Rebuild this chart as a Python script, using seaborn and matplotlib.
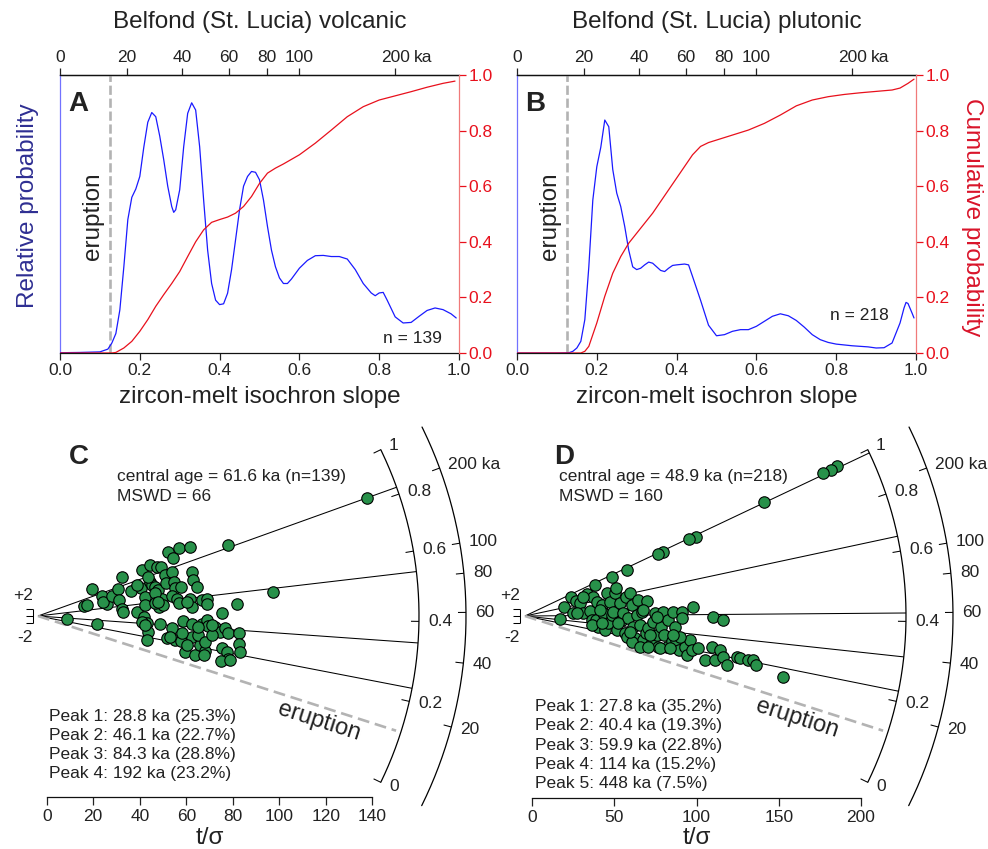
import numpy as np
import seaborn as sns
import matplotlib.pyplot as plt

sns.set_style('white')
plt.rcParams['font.family'] = ['Liberation Sans', 'DejaVu Sans']
plt.rcParams['axes.linewidth'] = 0.9

W, H = 988, 849
INK = '#222222'
RED = '#e8101c'
BLUE = '#1a1aff'
GREEN = '#28914a'
LAM = 9.1577e-3          # 230Th decay constant, 1/ka
ERUPTION = 0.125         # isochron slope of the eruption age

#%% Data - probability density / cumulative curves (A, B)
slope_pdf_a = [0, 0.05, 0.1, 0.12, 0.13, 0.14, 0.15, 0.16, 0.17, 0.18, 0.19, 0.2, 0.21, 0.22, 0.23,
               0.24, 0.25, 0.26, 0.27, 0.28, 0.285, 0.29, 0.3, 0.31, 0.32, 0.33, 0.34, 0.35, 0.36,
               0.37, 0.38, 0.39, 0.4, 0.41, 0.42, 0.43, 0.44, 0.45, 0.46, 0.47, 0.48, 0.49, 0.5,
               0.51, 0.52, 0.53, 0.54, 0.55, 0.56, 0.57, 0.58, 0.6, 0.62, 0.64, 0.66, 0.68, 0.7,
               0.72, 0.74, 0.76, 0.78, 0.79, 0.8, 0.81, 0.82, 0.84, 0.86, 0.88, 0.9, 0.92, 0.94,
               0.96, 0.98, 0.993]
pdf_a = [0.001, 0.002, 0.004, 0.014, 0.036, 0.07, 0.155, 0.31, 0.48, 0.56, 0.59, 0.635, 0.74, 0.83,
         0.865, 0.85, 0.78, 0.695, 0.6, 0.527, 0.506, 0.515, 0.587, 0.742, 0.862, 0.9, 0.874,
         0.742, 0.55, 0.37, 0.25, 0.19, 0.174, 0.177, 0.215, 0.3, 0.407, 0.515, 0.6, 0.635,
         0.653, 0.65, 0.623, 0.55, 0.455, 0.37, 0.31, 0.27, 0.25, 0.25, 0.266, 0.305, 0.333,
         0.35, 0.351, 0.347, 0.347, 0.338, 0.3, 0.25, 0.216, 0.206, 0.216, 0.218, 0.19, 0.13,
         0.108, 0.11, 0.132, 0.153, 0.162, 0.156, 0.141, 0.126]
slope_cdf_a = [0, 0.13, 0.14, 0.15, 0.16, 0.18, 0.2, 0.22, 0.24, 0.26, 0.28, 0.3, 0.32, 0.34, 0.36,
               0.38, 0.4, 0.42, 0.44, 0.46, 0.48, 0.5, 0.52, 0.54, 0.56, 0.6, 0.64, 0.68, 0.72,
               0.76, 0.8, 0.84, 0.88, 0.92, 0.96, 0.99]
cdf_a = [0, 0, 0.002, 0.01, 0.018, 0.042, 0.078, 0.12, 0.168, 0.21, 0.25, 0.293, 0.347, 0.4, 0.443,
         0.47, 0.48, 0.489, 0.503, 0.527, 0.563, 0.61, 0.647, 0.665, 0.68, 0.713, 0.755, 0.802,
         0.85, 0.886, 0.91, 0.925, 0.94, 0.956, 0.97, 0.978]

slope_pdf_b = [0, 0.1, 0.13, 0.14, 0.15, 0.16, 0.17, 0.18, 0.19, 0.2, 0.21, 0.22, 0.23, 0.24, 0.25,
               0.26, 0.27, 0.28, 0.29, 0.3, 0.31, 0.32, 0.33, 0.34, 0.35, 0.36, 0.37, 0.38, 0.39,
               0.4, 0.42, 0.43, 0.44, 0.46, 0.48, 0.5, 0.52, 0.54, 0.56, 0.58, 0.6, 0.62, 0.64,
               0.66, 0.68, 0.7, 0.72, 0.74, 0.76, 0.78, 0.8, 0.84, 0.88, 0.9, 0.92, 0.94, 0.96,
               0.97, 0.975, 0.98, 0.99, 0.995]
pdf_b = [0, 0, 0.001, 0.006, 0.018, 0.042, 0.12, 0.31, 0.55, 0.67, 0.74, 0.838, 0.814, 0.66, 0.575,
         0.527, 0.455, 0.37, 0.31, 0.3, 0.305, 0.317, 0.327, 0.323, 0.31, 0.297, 0.293, 0.305,
         0.315, 0.317, 0.32, 0.317, 0.275, 0.19, 0.1, 0.062, 0.066, 0.078, 0.084, 0.084, 0.096,
         0.114, 0.132, 0.141, 0.134, 0.117, 0.093, 0.066, 0.048, 0.038, 0.032, 0.026, 0.022,
         0.018, 0.019, 0.036, 0.108, 0.162, 0.182, 0.178, 0.144, 0.126]
slope_cdf_b = [0, 0.16, 0.17, 0.18, 0.2, 0.22, 0.24, 0.26, 0.28, 0.3, 0.32, 0.34, 0.36, 0.38, 0.4,
               0.42, 0.44, 0.46, 0.48, 0.5, 0.54, 0.58, 0.62, 0.66, 0.7, 0.74, 0.78, 0.82, 0.86,
               0.9, 0.94, 0.96, 0.98, 0.995]
cdf_b = [0, 0, 0.006, 0.024, 0.108, 0.204, 0.287, 0.347, 0.395, 0.431, 0.467, 0.503, 0.545, 0.587,
         0.629, 0.671, 0.713, 0.743, 0.757, 0.766, 0.784, 0.802, 0.826, 0.856, 0.889, 0.91,
         0.922, 0.93, 0.936, 0.941, 0.946, 0.953, 0.97, 0.985]

top_ages = [0, 20, 40, 60, 80, 100, 200]

#%% Data - radial plots (C, D)
peaks_c = [28.8, 46.1, 84.3, 192]
frac_c = [25.3, 22.7, 28.8, 23.2]
peaks_d = [27.8, 40.4, 59.9, 114, 448]
frac_d = [35.2, 19.3, 22.8, 15.2, 7.5]

# t/sigma and standardised estimate
tsig_c = [8.6, 21.5, 16.2, 17.2, 19.3, 23.6, 25.8, 24.3, 27.9, 30.8, 31.1, 32.2, 33.0, 32.5, 36.2,
          38.7, 40.5, 41.1, 42.0, 42.3, 44.4, 44.4, 45.1, 46.6, 47.3, 48.0, 49.1, 49.7, 50.8,
          51.3, 48.3, 50.1, 52.3, 53.7, 54.4, 54.9, 55.1, 53.7, 55.9, 56.9, 57.7, 56.9, 61.6,
          62.3, 63.0, 64.5, 61.6, 62.3, 60.2, 66.6, 68.8, 68.9, 78.1, 81.7, 75.2, 58.7, 62.6,
          66.6, 68.8, 69.5, 72.3, 74.5, 76.6, 78.1, 82.6, 82.6, 83.1, 53.7, 51.6, 55.1, 57.7,
          59.4, 62.3, 63.7, 65.9, 65.2, 68.0, 68.0, 70.9, 75.2, 77.4, 77.8, 74.9, 78.8, 48.7,
          43.0, 43.7, 43.0, 40.8, 42.3, 65.2, 58.0, 60.2, 53.0, 70.9, 38.7, 43.7, 46.6, 42.3,
          46.6, 48.0, 137.5, 97.1, 67.6]
z_c = [-0.9, -2.2, 2.9, 3.2, 7.8, 5.9, 3.4, 4.2, 5.8, 7.8, 4.8, 2.0, 1.2, 11.5, 7.3,
       1.2, 8.1, 13.4, -0.2, 5.6, 15.0, 10.0, 9.0, 8.5, 14.4, 7.6, 14.4, 5.1, 11.9,
       9.5, 2.7, 3.2, 18.7, 12.9, 16.8, 10.0, 8.1, 5.8, 5.1, 3.7, 8.5, 19.9, 20.0,
       12.7, 10.5, 8.5, 5.1, 2.7, 4.2, 4.6, 5.1, 3.4, 20.7, 3.4, 1.0, -1.5, -2.2,
       -2.2, -1.2, -2.8, -3.1, -4.6, -3.4, -5.1, -5.1, -8.3, -10.6, -3.4, -6.5, -7.0, -7.3,
       -10.4, -6.0, -11.4, -8.5, -5.4, -10.2, -7.5, -5.6, -9.4, -10.4, -12.4, -13.1, -12.8, -2.2,
       -1.9, -4.6, -7.0, -1.7, -2.6, -3.1, -5.1, -8.5, -6.0, -2.6, 9.0, 11.5, 6.6, 3.2,
       3.7, 4.2, 34.5, 6.9, -11.4]

tsig_d = [16.9, 19.3, 23.4, 25.0, 26.6, 29.0, 31.1, 33.1, 35.1, 36.1, 37.1, 38.2, 39.2, 38.8, 40.2,
          42.2, 43.2, 44.2, 45.3, 46.3, 47.3, 48.3, 49.3, 50.3, 50.9, 51.3, 53.4, 54.4, 55.4,
          56.4, 57.0, 57.4, 58.4, 59.5, 60.5, 61.5, 62.5, 63.5, 64.5, 65.5, 66.6, 67.6, 69.2,
          69.6, 70.6, 72.6, 73.7, 74.7, 75.7, 76.7, 78.1, 79.7, 80.1, 81.8, 82.8, 84.8, 85.8,
          86.8, 87.4, 89.5, 90.9, 90.9, 92.9, 94.0, 96.0, 97.0, 98.0, 101.0, 105.1, 109.2, 110.2,
          111.2, 114.2, 116.3, 116.3, 118.3, 124.4, 126.4, 131.5, 134.5, 136.1, 48.3, 57.4, 36.1,
          42.2, 60.5, 65.5, 70.6, 77.7, 83.8, 89.9, 75.7, 67.6, 31.1, 27.0, 41.2, 52.4, 59.5,
          71.6, 85.8, 185.3, 181.6, 177.1, 141.0, 99.4, 95.4, 79.7, 76.7, 152.4]
z_d = [-1.0, 2.5, 5.6, 1.0, 4.5, 3.7, 0.8, 6.4, 1.6, -1.2, 5.6, 9.0, 4.2, -1.2, -3.1,
       3.2, 0.8, -4.1, 6.6, -2.1, 4.2, 0.3, 1.3, 6.6, 8.1, -4.1, 3.7, -1.2, 0.8,
       -5.1, 5.6, -6.0, -0.7, 6.6, 3.2, -3.1, -6.5, 0.3, 4.7, -2.6, 1.3, -7.0, -5.1,
       4.5, -3.6, -7.5, -1.7, 0.8, -5.5, -9.1, -3.1, 1.3, -5.5, -9.0, -1.2, -7.2, 1.3,
       -3.3, -7.0, -9.9, 1.3, -0.7, -9.0, -11.4, -7.0, -9.9, 2.7, -9.4, -12.8, -9.0, -0.2,
       -12.8, -9.9, -1.2, -11.9, -14.3, -11.9, -12.3, -12.8, -12.8, -14.3, 11.5, 13.4, -2.6,
       -2.1, -7.5, -9.0, -9.0, -9.4, -9.4, -6.0, -0.2, 1.7, 5.6, 0.8, 1.7, -2.1, -4.6,
       -5.5, -5.5, 43.8, 42.6, 41.6, 33.3, 23.1, 22.4, 18.7, 18.1, -17.7]

arc_slopes = [0, 0.2, 0.4, 0.6, 0.8, 1]
arc_ages = [20, 40, 60, 80, 100, 200]


def to_slope(age):
    return 1 - np.exp(-LAM * np.asarray(age, dtype=float))


def arc_angle(s):
    # angle on the radial scale, log(1+slope) transform centred on the 0-1 range
    return np.arctan(1.4 * (np.log1p(s) - np.log(2) / 2))


def fxy(px, py):
    return px / W, 1 - py / H


fig = plt.figure(figsize=(W / 100, H / 100), dpi=100)


def px_axes(l, t, r, b):
    ax = fig.add_axes([l / W, 1 - b / H, (r - l) / W, (b - t) / H])
    ax.patch.set_alpha(0)
    return ax


#%% Panels A and B
def kde_panel(left, xp, yp, xc, yc, title, letter, n_text, n_xy):
    right = left + 399
    ax = px_axes(left, 75, right, 353)
    ax2 = ax.twinx()
    ax2.patch.set_alpha(0)
    ax.axvline(ERUPTION, color='#b3b3b3', lw=1.9, dashes=(3.5, 1.4), zorder=1)
    sns.lineplot(x=xp, y=yp, ax=ax, color=BLUE, lw=0.9, zorder=3)
    sns.lineplot(x=xc, y=yc, ax=ax2, color=RED, lw=0.9)
    for a in (ax, ax2):
        a.set_xlim(0, 1)
        a.set_ylim(0, 1)
        a.set_ylabel('')
        a.set_xlabel('')
    ax.spines['left'].set_color('#7272ff')
    ax.spines['right'].set_visible(False)
    for s in ('top', 'bottom'):
        ax.spines[s].set_color('#111111')
    for s in ('left', 'top', 'bottom'):
        ax2.spines[s].set_visible(False)
    ax2.spines['right'].set_color('#f07a7a')
    ax.tick_params(axis='y', left=False, labelleft=False)
    ax.set_xticks([0, 0.2, 0.4, 0.6, 0.8, 1.0], labels=['0.0', '0.2', '0.4', '0.6', '0.8', '1.0'])
    ax.tick_params(axis='x', bottom=True, direction='out', length=5, width=0.9,
                   labelsize=12.5, colors=INK, pad=2)
    ax2.set_yticks([0, 0.2, 0.4, 0.6, 0.8, 1.0], labels=['0.0', '0.2', '0.4', '0.6', '0.8', '1.0'])
    ax2.tick_params(axis='y', right=True, direction='out', length=5, width=0.9,
                    labelsize=12.5, colors=RED, pad=2)

    sec = ax.secondary_xaxis('top')
    sec.set_xticks(list(to_slope(top_ages)), labels=[str(a) for a in top_ages])
    sec.tick_params(direction='out', length=5, width=0.9, labelsize=12.5, colors=INK, pad=2)
    sec.spines['top'].set_color('#111111')
    x200 = left + 399 * float(to_slope(200))
    fig.text(*fxy(x200 + 19, 57), 'ka', fontsize=12.5, color=INK, ha='left', va='center')

    cx = left + 199.5
    fig.text(*fxy(cx, 22), title, fontsize=17.5, color=INK, ha='center', va='center')
    fig.text(*fxy(cx, 397), 'zircon-melt isochron slope', fontsize=17.5, color=INK,
             ha='center', va='center')
    fig.text(*fxy(left + 8, 104), letter, fontsize=20, fontweight='bold', color=INK,
             ha='left', va='center')
    fig.text(*fxy(left + 33, 216), 'eruption', fontsize=17.5, color=INK, rotation=90,
             ha='center', va='center')
    fig.text(*fxy(*n_xy), n_text, fontsize=12.5, color=INK, ha='right', va='center')
    return ax


kde_panel(60, slope_pdf_a, pdf_a, slope_cdf_a, cdf_a, 'Belfond (St. Lucia) volcanic', 'A',
          'n = 139', (442, 339))
kde_panel(517, slope_pdf_b, pdf_b, slope_cdf_b, cdf_b, 'Belfond (St. Lucia) plutonic', 'B',
          'n = 218', (889, 316))
fig.text(*fxy(28, 206), 'Relative probability', fontsize=17.5, color='#2e2e92', rotation=90,
         ha='center', va='center')
fig.text(*fxy(972, 217), 'Cumulative probability', fontsize=17.5, color='#d9142a', rotation=-90,
         ha='center', va='center')

#%% Panels C and D (radial plots)
R1, R2, TL = 381, 428, 8


def radial_panel(geo, lpx, rpx, tsig, zs, peaks, fracs, xmax, xstep, letter, lines, peak_y):
    ox, oy, x0, sx, sy, ay = geo
    ax = px_axes(lpx, 425, rpx, ay)

    def pol(r, th):
        return (ox + r * np.cos(th) - x0) / sx, r * np.sin(th) / sy

    kw = dict(color='black', lw=0.75, clip_on=False, solid_capstyle='butt')
    # radial lines through the peaks
    for age in peaks:
        th = arc_angle(to_slope(age))
        ax.plot(*pol(np.array([0, R1]), th), **kw)
    th_e = arc_angle(ERUPTION)
    ax.plot(*pol(np.array([0, R1 - 5]), th_e), color='#b3b3b3', lw=1.9,
            dashes=(4.5, 2.2), clip_on=False)

    # inner arc: isochron slope
    th = np.linspace(arc_angle(0), arc_angle(1), 150)
    ax.plot(*pol(R1, th), color='black', lw=0.9, clip_on=False)
    for s in arc_slopes:
        t = arc_angle(s)
        ax.plot(*pol(np.array([R1 - TL, R1]), t), **kw)
        ax.text(*pol(R1 + 9, t), f'{s:g}', fontsize=12.5, color=INK, ha='left', va='center')
    # outer arc: age
    th = np.linspace(np.radians(-26.3), np.radians(26.2), 150)
    ax.plot(*pol(R2, th), color='black', lw=0.9, clip_on=False)
    for a in arc_ages:
        t = arc_angle(to_slope(a))
        ax.plot(*pol(np.array([R2 - TL, R2]), t), **kw)
        ax.text(*pol(R2 + 9, t), f'{a} ka' if a == 200 else str(a), fontsize=12.5,
                color=INK, ha='left', va='center')

    # 2-sigma bar
    xb = (ox - 5 - x0) / sx
    ax.plot([xb, xb], [-2, 2], **kw)
    for yb in (-2, 0, 2):
        ax.plot([xb - 7 / sx, xb], [yb, yb], **kw)
    fig.text(*fxy(ox - 5, oy - 21), '+2', fontsize=12.5, color=INK, ha='right', va='center')
    fig.text(*fxy(ox - 5, oy + 21), '-2', fontsize=12.5, color=INK, ha='right', va='center')

    sns.scatterplot(x=tsig, y=zs, ax=ax, color=GREEN, edgecolor='black', linewidth=0.8,
                    s=68, zorder=5, clip_on=False, legend=False)

    ax.set_xlim((lpx - x0) / sx, (rpx - x0) / sx)
    ax.set_ylim((oy - ay) / sy, (oy - 425) / sy)
    for s in ('left', 'right', 'top'):
        ax.spines[s].set_visible(False)
    ax.spines['bottom'].set_bounds(0, xmax)
    ax.spines['bottom'].set_color('#111111')
    ax.set_xticks(list(range(0, xmax + 1, xstep)))
    ax.set_yticks([])
    ax.tick_params(axis='x', bottom=True, direction='out', length=6, width=0.9,
                   labelsize=12.5, colors=INK, pad=3)
    ax.set_xlabel('')
    ax.set_ylabel('')
    fig.text(*fxy(x0 + sx * xmax / 2, 838), 't/σ', fontsize=17.5, color=INK,
             ha='center', va='center')

    # eruption label along the dashed line
    r = 300 if letter == 'C' else 290
    ex = ox + r * np.cos(th_e) + 15 * np.sin(th_e)
    ey = oy - r * np.sin(th_e) + 15 * np.cos(th_e)
    fig.text(*fxy(ex, ey), 'eruption', fontsize=17, color=INK, rotation=np.degrees(th_e),
             rotation_mode='anchor', ha='center', va='center')

    fig.text(*fxy(x0 + 22, 457), letter, fontsize=20, fontweight='bold', color=INK,
             ha='left', va='center')
    fig.text(*fxy(lines[0], 477), lines[1], fontsize=12.5, color=INK, ha='left', va='center')
    fig.text(*fxy(lines[0], 496), lines[2], fontsize=12.5, color=INK, ha='left', va='center')
    for i, (a, f) in enumerate(zip(peaks, fracs)):
        fig.text(*fxy(x0 + 2.6, peak_y + 19.2 * i), f'Peak {i + 1}: {a:g} ka ({f:g}%)',
                 fontsize=12.5, color=INK, ha='left', va='center')
    return ax


geo_c = (38, 616, 46.7, 2.327, 3.43, 796.7)
geo_d = (525, 616, 532.3, 1.643, 3.43, 797.7)
radial_panel(geo_c, 5, 490, tsig_c, z_c, peaks_c, frac_c, 140, 20, 'C',
             (116.7, 'central age = 61.6 ka (n=139)', 'MSWD = 66'), 716)
radial_panel(geo_d, 492, 985, tsig_d, z_d, peaks_d, frac_d, 200, 50, 'D',
             (559.3, 'central age = 48.9 ka (n=218)', 'MSWD = 160'), 706.7)

fig.savefig('out.png', dpi=100)
